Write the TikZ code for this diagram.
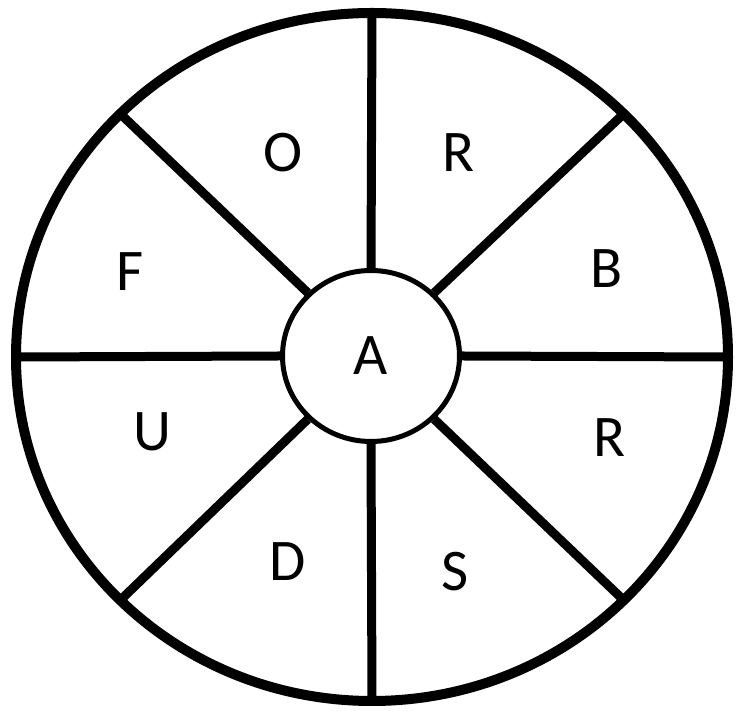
\documentclass[tikz,border=0pt]{standalone}
\usepackage{fontspec}
\setmainfont{Carlito}
\usetikzlibrary{shapes.geometric,calc}
\tikzset{
  rim/.style={draw=black,line width=10pt},
  spk/.style={draw=black,line width=9pt},
  hub/.style={draw=black,ellipse,line width=5pt,fill=white,minimum width=177pt,minimum height=171pt,inner sep=0pt,font=\fontsize{59}{60}\selectfont},
  lbl/.style={inner sep=0pt,font=\fontsize{59}{60}\selectfont},
}
\begin{document}
\begin{tikzpicture}[x=1pt,y=1pt]
  \useasboundingbox[fill=white] (0,0) rectangle (739,711);
  \coordinate (c) at (372,354);
  % outer ring
  \draw[rim] (c) ellipse [x radius=356, y radius=344];
  \node[hub] (a) at (371,355) {A};
  % spokes
  \foreach \ang in {0,45,...,315}
    \coordinate (r\ang) at ($(c)+(\ang:356 and 344)$);
  \foreach \ang in {0,45,...,315}
    \draw[spk] (a.\ang) -- (r\ang);
  % letters in the sectors
  \foreach \x/\y/\t [count=\i] in {283.5/558/O, 459/558.5/R, 606.5/442.5/B, 610/273/R, 455/139/S, 287.5/149/D, 152.5/279/U, 130/439/F}
    \node[lbl] (s\i) at (\x,\y) {\t};
\end{tikzpicture}
\end{document}
